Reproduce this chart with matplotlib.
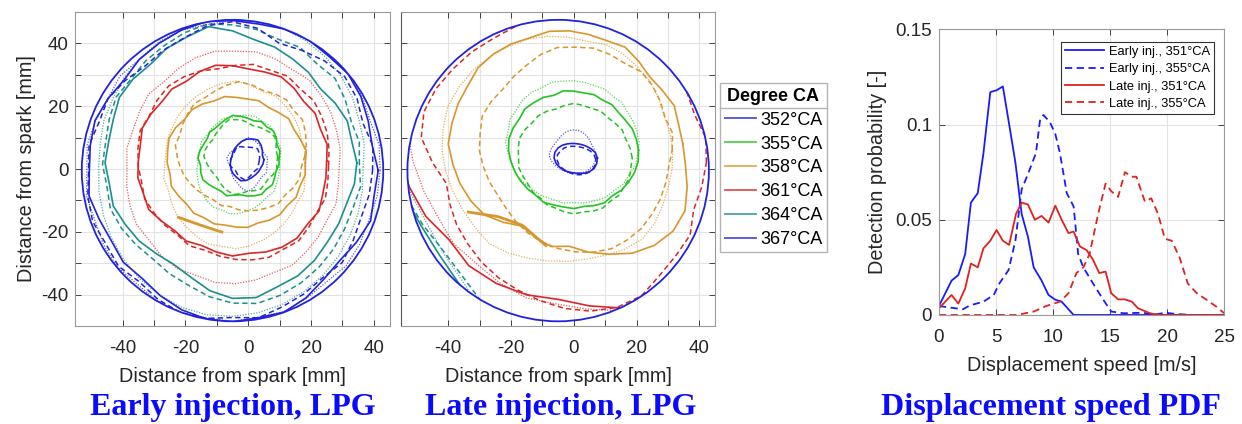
import numpy as np
import matplotlib.pyplot as plt
from matplotlib.patches import Circle
from matplotlib.lines import Line2D

# legend entries and colours
degrees = ["352°CA", "355°CA", "358°CA", "361°CA", "364°CA", "367°CA"]
deg_colors = ["#2222dd", "#22c422", "#d8962c", "#da2626", "#1b8f8f", "#2222dd"]

# chamber wall (centre, radius) [mm]
wall_c = (-5.0, -0.5)
wall_r = 48.0

# flame contours: centre [mm] and radius [mm] at equal angle steps (ccw from +x)
# three cycles per crank angle: solid, dashed, dotted

# ---- early injection ----
early_c352 = [(-0.5, 3), (-1, 2.5), (0, 2)]
early_r352 = [
    [5.5, 5.2, 5.8, 6.5, 7.2, 6.8, 6.5, 6, 5.5, 5.2, 5, 4.8, 5, 5.4, 5.8, 6.2, 6.5, 7, 6.6, 6, 5.6, 5.4, 5.2, 5.4],
    [4.5, 4.8, 5.2, 5.6, 5, 4.6, 4.4, 4.8, 5.2, 4.6, 4.2, 4.5, 4.8, 5, 4.6, 4.3, 4.8, 5.4, 6, 5.2, 4.6, 4.4, 4.7, 4.4],
    [6, 6.4, 5.8, 6.2, 6.8, 7.4, 8, 7.2, 6.4, 6, 6.6, 7, 6.4, 5.8, 6.2, 6.8, 7.2, 8.4, 9.2, 8, 6.8, 6.2, 6.6, 6.2],
]
early_c355 = [(-2.5, 3.5), (-2, 4), (-3, 2)]
early_r355 = [
    [12.3, 12.8, 12.4, 13.2, 13.6, 13.0, 13.4, 12.6, 12.9, 13.3, 13.8, 13.2, 12.7, 12.4, 12.8, 12.2, 12.5, 13.1,
     13.5, 12.9, 13.4, 13.8, 13.1, 12.5, 12.2, 12.8, 12.0, 11.7, 12.3, 12.8, 13.4, 12.9, 13.3, 12.6, 12.1, 12.5],
    [11.4, 11.0, 11.6, 12.2, 11.8, 11.2, 10.8, 10.4, 10.9, 11.6, 11.9, 12.4, 11.8, 11.2, 11.0, 10.7, 11.3, 11.9,
     12.1, 11.5, 11.0, 10.6, 10.4, 10.9, 11.5, 12.0, 12.3, 11.7, 11.2, 11.6, 12.0, 11.4, 11.0, 11.5, 11.8, 11.3],
    [13.0, 13.5, 14.2, 14.0, 14.8, 15.4, 15.1, 15.7, 15.4, 15.0, 14.6, 14.9, 14.2, 13.8, 13.4, 13.7, 13.1, 13.3,
     13.0, 13.6, 14.0, 14.6, 15.2, 15.8, 16.3, 16.0, 16.5, 16.2, 15.6, 15.2, 14.6, 14.1, 14.5, 13.8, 13.4, 13.2],
]
early_c358 = [(-3.8, 2), (-3, 4), (-4, 1)]
early_r358 = [
    [22.0, 22.6, 21.7, 21.2, 21.8, 20.9, 20.4, 21.0, 20.6, 20.8, 21.4, 20.9, 21.6, 22.0, 21.5, 22.3, 22.8, 22.2,
     22.0, 21.4, 22.0, 21.2, 20.6, 21.0, 20.3, 20.7, 20.2, 20.5, 20.9, 20.4, 21.1, 21.6, 21.2, 22.0, 21.6, 22.3],
    [21.0, 21.8, 22.6, 23.4, 22.8, 23.6, 23.0, 22.4, 23.2, 23.8, 23.0, 22.2, 21.6, 22.0, 21.2, 20.6, 20.0, 20.5,
     19.6, 19.0, 18.4, 17.6, 17.0, 16.4, 16.0, 16.6, 16.2, 17.0, 17.6, 18.2, 18.8, 19.6, 19.2, 20.0, 20.6, 20.2],
    [22.0, 22.8, 22.4, 23.4, 24.2, 24.8, 25.6, 25.2, 26.2, 27.0, 26.6, 26.0, 25.4, 24.8, 24.2, 23.6, 23.2, 22.6,
     22.6, 23.2, 22.8, 23.6, 24.4, 25.0, 25.6, 26.4, 26.0, 26.4, 25.8, 25.2, 24.6, 24.0, 23.4, 22.8, 23.2, 22.4],
]
early_c361 = [(-5, 2.5), (-4, 1), (-4, 0.5)]
early_r361 = [
    [30.0, 30.6, 29.8, 30.4, 29.6, 30.4, 31.0, 30.2, 29.8, 30.4, 31.0, 30.4, 29.4, 30.0, 29.4, 30.0, 30.6, 29.8,
     30.0, 30.6, 30.2, 30.8, 29.6, 28.8, 29.4, 28.6, 29.4, 30.2, 29.8, 30.8, 31.6, 32.0, 31.2, 31.8, 30.6, 30.2],
    [29.6, 30.2, 31.0, 31.6, 32.4, 32.0, 33.0, 32.4, 32.8, 32.0, 31.4, 32.2, 32.8, 33.2, 32.6, 31.8, 32.4, 31.6,
     31.0, 30.4, 30.8, 30.0, 29.4, 28.8, 29.4, 28.6, 29.2, 29.8, 30.4, 31.0, 30.6, 31.2, 30.4, 29.8, 30.4, 29.8],
    [33.0, 33.8, 34.2, 35.0, 35.6, 36.4, 36.0, 36.8, 37.4, 37.0, 37.6, 37.2, 36.4, 35.6, 36.2, 35.4, 34.8, 35.2,
     34.6, 35.2, 35.8, 36.4, 36.0, 36.8, 37.2, 36.6, 37.2, 37.0, 36.4, 35.6, 36.0, 35.0, 34.4, 33.6, 34.0, 33.2],
]
early_c364 = [(-5, 2), (-5, 1.5), (-5, 0.5)]
early_r364 = [
    [39.6, 38.6, 38.9, 37.8, 36.6, 37.6, 38.2, 39.2, 39.8, 42.0, 44.0, 42.6, 42.0, 40.8, 41.4, 41.6, 40.4, 40.0,
     40.6, 39.8, 40.4, 39.4, 38.8, 37.8, 37.4, 38.8, 41.4, 43.2, 43.6, 42.0, 41.6, 40.6, 39.4, 39.0, 38.6, 39.4],
    [40.4, 41.0, 40.2, 41.4, 42.6, 41.8, 43.0, 42.4, 43.6, 44.4, 45.4, 44.6, 43.6, 43.0, 42.2, 42.8, 41.8, 41.0,
     41.4, 40.6, 41.4, 40.8, 40.0, 39.4, 40.2, 41.0, 42.8, 44.2, 45.0, 44.4, 43.6, 42.8, 42.0, 41.2, 40.8, 41.4],
    [41.6, 42.6, 43.0, 44.2, 45.2, 46.0, 46.6, 47.2, 46.8, 47.4, 47.6, 47.0, 46.4, 45.6, 44.8, 44.0, 43.6, 42.8,
     42.6, 43.2, 43.8, 44.6, 45.4, 46.2, 46.8, 47.4, 47.6, 47.4, 47.0, 46.4, 45.6, 44.8, 44.0, 43.2, 42.6, 42.0],
]
early_c367 = [(-5, -0.5), (-5, -0.5), (-5, -0.5)]
early_r367 = [
    [46.4, 45.2, 46.0, 47.2, 48.0, 47.6, 48.2, 48.0, 47.4, 47.8, 48.2, 47.6, 46.8, 46.2, 45.0, 45.8, 46.6, 46.0,
     45.6, 46.4, 45.2, 44.6, 45.4, 44.8, 46.0, 47.2, 48.0, 48.2, 47.6, 48.0, 46.8, 45.2, 44.6, 45.6, 46.8, 45.8],
    [44.6, 45.4, 44.2, 45.8, 46.6, 45.6, 44.2, 43.2, 46.0, 47.4, 46.8, 45.0, 44.2, 43.4, 44.6, 45.8, 45.2, 46.4,
     45.8, 46.8, 47.4, 46.6, 47.4, 46.2, 47.4, 48.2, 47.8, 46.8, 47.6, 46.2, 45.4, 44.6, 45.6, 44.4, 43.6, 44.2],
    [47.0, 47.4, 46.6, 47.6, 48.0, 47.8, 48.2, 48.0, 48.2, 47.8, 47.2, 47.6, 46.8, 46.2, 46.8, 45.8, 46.4, 47.0,
     46.4, 47.2, 46.6, 47.4, 47.8, 47.2, 48.0, 48.2, 47.6, 48.0, 47.4, 47.8, 47.0, 46.4, 47.2, 46.8, 46.2, 46.8],
]
early_tail_x = [-22.2, -14.8, -8.4]
early_tail_y = [-15.4, -18.0, -20.1]

# ---- late injection ----
late_c352 = [(0.5, 3.5), (0.6, 3), (-0.5, 4.5)]
late_r352 = [
    [7, 6.6, 5.8, 5.2, 4.8, 4.6, 4.6, 4.8, 5.2, 5.8, 6.4, 6.8, 6.8, 6.4, 5.8, 5.4, 5, 4.8, 4.8, 5, 5.6, 6.2, 6.8, 7],
    [6.4, 6, 5.4, 4.8, 4.4, 4.2, 4.2, 4.4, 4.8, 5.2, 5.6, 6, 6, 5.6, 5.2, 4.8, 4.6, 4.6, 4.8, 5, 5.4, 5.8, 6.2, 6.4],
    [7.5, 7.2, 7, 7.4, 7.8, 8, 8, 7.6, 7, 6.6, 6.6, 7, 7.4, 7, 6.4, 6, 5.8, 5.8, 6, 6.2, 6.6, 7, 7.4, 7.6],
]
late_c355 = [(0, 6), (0, 3.5), (0, 8.5)]
late_r355 = [
    [20.6, 20.2, 19.8, 19.0, 18.6, 18.9, 18.4, 18.8, 18.5, 18.8, 19.2, 18.6, 19.4, 19.8, 20.4, 20.0, 20.6, 21.0,
     20.8, 20.4, 20.0, 19.6, 19.2, 18.8, 19.2, 18.6, 18.4, 18.6, 18.2, 18.8, 19.4, 19.0, 19.8, 20.2, 20.6, 20.8],
    [18.6, 18.2, 17.6, 17.8, 17.2, 16.8, 17.2, 16.8, 17.0, 17.4, 17.0, 16.6, 17.2, 17.6, 17.4, 18.0, 18.4, 18.0,
     17.6, 17.8, 17.2, 16.8, 17.0, 16.6, 17.2, 17.0, 17.4, 17.8, 17.4, 18.0, 18.4, 18.0, 18.6, 18.4, 18.8, 18.4],
    [20.8, 20.4, 20.0, 19.6, 19.8, 19.2, 19.6, 19.2, 19.4, 19.6, 19.8, 20.4, 20.2, 20.8, 21.2, 21.0, 21.6, 21.2,
     21.8, 21.2, 20.8, 21.0, 20.4, 20.0, 19.8, 19.4, 19.6, 19.2, 19.6, 19.8, 20.2, 20.0, 20.6, 20.4, 21.0, 20.6],
]
late_c358 = [(-1.5, 8), (0.5, 6), (-2, 6)]
late_r358 = [
    [36.2, 35.4, 35.6, 34.2, 33.4, 34.4, 35.6, 35.0, 35.4, 36.0, 36.4, 36.0, 36.8, 37.4, 37.8, 37.2, 37.6, 37.9,
     38.5, 37.6, 37.0, 36.2, 35.2, 32.6, 30.2, 31.6, 33.2, 32.6, 35.0, 37.4, 40.2, 42.2, 43.2, 42.6, 40.0, 37.6],
    [30.8, 31.4, 30.4, 31.2, 32.0, 32.6, 31.8, 32.4, 33.0, 32.8, 33.2, 32.4, 31.2, 30.6, 30.2, 31.0, 31.6, 30.8,
     30.6, 29.8, 29.2, 28.6, 28.8, 29.6, 30.4, 31.2, 31.8, 32.4, 33.0, 33.4, 33.0, 32.6, 31.8, 31.2, 30.6, 30.2],
    [33.5, 33.0, 32.6, 33.4, 34.2, 34.6, 35.4, 35.8, 35.2, 36.0, 36.8, 37.6, 38.0, 38.8, 39.4, 40.0, 40.6, 40.2,
     40.0, 39.4, 38.8, 38.4, 38.4, 38.8, 37.8, 36.6, 35.8, 35.4, 35.2, 35.6, 36.4, 37.0, 36.2, 35.0, 34.2, 33.8],
]
late_c361 = [(5, 15), (-3, 2), (4, 12)]
late_r361 = [
    [63, 63, 63, 63, 63, 63, 63, 63, 63, 63, 63, 63, 63, 63, 63, 63, 62, 62,
     62, 61.6, 61.0, 60.2, 58.4, 59.8, 59.4, 58.6, 57.4, 58.6, 60.2, 61.0, 62, 62, 62, 62, 63, 63],
    [45.2, 45.7, 44.2, 45.0, 46.8, 50, 52, 52, 52, 50, 47.6, 46.1, 45.6, 46.0, 46.4, 47.2, 47.6, 46.3,
     42.0, 38.2, 38.8, 39.6, 40.2, 41.2, 42.2, 43.2, 44.6, 46.4, 48, 49, 49, 47, 46.2, 46.2, 43.8, 44.4],
    [62, 62, 62, 62, 62, 62, 62, 62, 62, 62, 62, 62, 62, 62, 62, 61, 60, 58,
     57, 56, 55.2, 54.6, 55.4, 54.8, 55.6, 56.4, 55.8, 56.6, 58, 60, 62, 62, 62, 62, 62, 62],
]
late_c364 = [(8, 15), (8, 15), (8, 15)]
late_r364 = [
    [72, 72, 72, 72, 72, 72, 72, 72, 72, 72, 72, 72, 72, 72, 72, 72, 72, 72,
     72, 70, 66.4, 65.6, 66.2, 68.4, 72, 72, 72, 72, 72, 72, 72, 72, 72, 72, 72, 72],
    [72, 72, 72, 72, 72, 72, 72, 72, 72, 72, 72, 72, 72, 72, 72, 72, 72, 72,
     72, 72, 66, 65, 64.4, 66, 70, 72, 72, 72, 72, 72, 72, 72, 72, 72, 72, 72],
    [72, 72, 72, 72, 72, 72, 72, 72, 72, 72, 72, 72, 72, 72, 72, 72, 72, 72,
     72, 70, 64.2, 63.6, 64.8, 67, 72, 72, 72, 72, 72, 72, 72, 72, 72, 72, 72, 72],
]
late_tail_x = [-33.6, -24, -16.4, -8.9]
late_tail_y = [-13.7, -15.2, -17.9, -24.4]

# ---- displacement speed PDF ----
early351_v = [0, 1.1, 1.7, 2.3, 2.8, 3.4, 3.9, 4.5, 5.05, 5.6, 6.1, 6.7, 7.25, 7.8, 8.3, 9.0, 9.6, 10.2, 10.75, 11.8, 25]
early351_p = [0.0047, 0.018, 0.021, 0.032, 0.059, 0.064, 0.085, 0.117, 0.118, 0.120, 0.102, 0.080, 0.053, 0.041,
              0.025, 0.018, 0.0105, 0.008, 0.007, 0.0, 0.0]
early355_v = [0, 2.1, 2.7, 3.9, 4.8, 5.3, 6.1, 6.7, 7.25, 7.8, 8.5, 8.85, 9.15, 9.7, 10.2, 10.6, 11.2, 11.8, 12.2,
              12.65, 13.5, 14.4, 15.1, 16.2, 17.9, 18.8, 19.8, 20.8, 22.3, 25]
early355_p = [0.0047, 0.003, 0.005, 0.007, 0.0105, 0.0166, 0.0236, 0.039, 0.066, 0.074, 0.085, 0.102, 0.105, 0.1015,
              0.095, 0.085, 0.064, 0.057, 0.032, 0.025, 0.0166, 0.008, 0.0018, 0.0009, 0.0012, 0.0, 0.0012, 0.0005, 0.0, 0.0]
late351_v = [0, 1.1, 1.7, 2.3, 2.8, 3.4, 3.9, 4.5, 5.05, 5.6, 6.15, 6.75, 7.25, 7.8, 8.4, 9.0, 9.6, 10.2, 10.75,
             11.35, 11.8, 12.35, 12.95, 13.5, 14.05, 14.6, 15.1, 15.7, 16.3, 16.9, 17.45, 18.5, 19.4, 25]
late351_p = [0.0035, 0.0105, 0.006, 0.014, 0.027, 0.025, 0.035, 0.039, 0.0446, 0.039, 0.0368, 0.053, 0.059, 0.058,
             0.050, 0.052, 0.0485, 0.0574, 0.050, 0.043, 0.0438, 0.036, 0.034, 0.029, 0.022, 0.0228, 0.0114, 0.0082,
             0.0082, 0.007, 0.0035, 0.0009, 0.0, 0.0]
late355_v = [0, 6.8, 8.3, 9.4, 10.6, 11.35, 12.05, 12.65, 13.2, 13.95, 14.6, 15.1, 15.7, 16.3, 16.9, 17.3, 18.05,
             18.6, 19.2, 19.8, 20.4, 21.1, 21.8, 22.6, 23.45, 24.3, 25]
late355_p = [0, 0, 0.0018, 0.0047, 0.007, 0.0114, 0.022, 0.025, 0.032, 0.053, 0.069, 0.065, 0.062, 0.075, 0.0726,
             0.0726, 0.0595, 0.0613, 0.053, 0.040, 0.039, 0.030, 0.0166, 0.0114, 0.008, 0.0044, 0.0009]
pdf_labels = ["Early inj., 351°CA", "Early inj., 355°CA", "Late inj., 351°CA", "Late inj., 355°CA"]

TXT = "#262626"
FRAME = "#9a9a9a"
GRID = "#e3e3e3"
styles = [dict(ls="-", lw=1.2, alpha=1.0),
          dict(ls=(0, (3.5, 2.2)), lw=1.1, alpha=1.0),
          dict(ls=(0, (1, 1.2)), lw=0.9, alpha=0.75)]
pos_ticks = [-40, -30, -20, -10, 0, 10, 20, 30, 40]
pos_labels = ["-40", "", "-20", "", "0", "", "20", "", "40"]

plt.rcParams["font.family"] = ["Liberation Sans", "DejaVu Sans"]

fig = plt.figure(figsize=(12.42, 4.24), dpi=100)


def style_axes(ax):
    for s in ax.spines.values():
        s.set_color(FRAME)
        s.set_linewidth(0.8)
    ax.tick_params(direction="in", length=4, width=0.7, color="#444444", labelcolor=TXT,
                   labelsize=13.5, top=True, right=True)
    ax.tick_params(axis="x", pad=10)
    ax.tick_params(axis="y", pad=5)
    ax.grid(True, color=GRID, lw=0.8)
    ax.set_axisbelow(True)


def flame_panel(ax, groups, tails):
    ax.set_xlim(-55, 45)
    ax.set_ylim(-50, 50)
    ax.set_aspect("equal")
    ax.set_xticks(pos_ticks)
    ax.set_xticklabels(pos_labels)
    ax.set_yticks(pos_ticks)
    ax.set_yticklabels(pos_labels)
    style_axes(ax)
    wall = Circle(wall_c, wall_r, fill=False, ec=deg_colors[0], lw=1.3, zorder=5)
    ax.add_patch(wall)
    for centers, radii, col in groups:
        for k, ((cx, cy), r) in enumerate(zip(centers, radii)):
            a = np.linspace(0, 2 * np.pi, len(r), endpoint=False)
            a = np.append(a, a[0])
            rr = np.array(r + r[:1])
            st = styles[k]
            ln, = ax.plot(cx + rr * np.cos(a), cy + rr * np.sin(a), color=col, ls=st["ls"],
                          lw=st["lw"], alpha=st["alpha"], zorder=3)
            ln.set_clip_path(wall)
    for tx, ty in tails:
        ax.plot(tx, ty, color=deg_colors[2], lw=2.0, zorder=3)
    ax.set_xlabel("Distance from spark [mm]", fontsize=14.3, color=TXT, labelpad=7)


# early injection
ax1 = fig.add_axes([0.0604, 0.2311, 0.2536, 0.7406])
flame_panel(ax1, [(early_c352, early_r352, deg_colors[0]), (early_c355, early_r355, deg_colors[1]),
                  (early_c358, early_r358, deg_colors[2]), (early_c361, early_r361, deg_colors[3]),
                  (early_c364, early_r364, deg_colors[4]), (early_c367, early_r367, deg_colors[5])],
            [(early_tail_x, early_tail_y)])
ax1.set_ylabel("Distance from spark [mm]", fontsize=14.3, color=TXT, labelpad=4)

# late injection
ax2 = fig.add_axes([0.3226, 0.2311, 0.2536, 0.7406])
flame_panel(ax2, [(late_c352, late_r352, deg_colors[0]), (late_c355, late_r355, deg_colors[1]),
                  (late_c358, late_r358, deg_colors[2]), (late_c361, late_r361, deg_colors[3]),
                  (late_c364, late_r364, deg_colors[4])],
            [(late_tail_x, late_tail_y)])
ax2.set_yticklabels([])
ax2.spines["left"].set_color("#555555")

# legend for crank angles
handles = [Line2D([], [], color=c, lw=1.3, alpha=0.8) for c in deg_colors]
leg = fig.legend(handles, degrees, title="Degree CA", loc="upper left",
                 bbox_to_anchor=(720 / 1242, 1 - 83.3 / 424), borderaxespad=0, fontsize=13,
                 handlelength=1.75, handletextpad=0.22, labelspacing=0.38, borderpad=0.25,
                 fancybox=False, edgecolor="#b4b4b4", framealpha=1)
leg.get_title().set_fontweight("bold")
leg.get_title().set_fontsize(13)
leg.get_frame().set_linewidth(1.0)

# separator under the legend title
fig.canvas.draw()
tb = leg.get_title().get_window_extent()
eb = leg.get_texts()[0].get_window_extent()
fb = leg.get_frame().get_window_extent()
ysep = (tb.y0 + eb.y1) / 2 / fig.bbox.height
fig.add_artist(Line2D([fb.x0 / fig.bbox.width, fb.x1 / fig.bbox.width], [ysep, ysep],
                      color="#b4b4b4", lw=1.0, zorder=6))

# displacement speed PDF
ax3 = fig.add_axes([0.756, 0.2571, 0.2297, 0.6738])
ax3.plot(early351_v, early351_p, color="#1a1aff", lw=1.3, label=pdf_labels[0])
ax3.plot(early355_v, early355_p, color="#1a1aff", lw=1.3, ls=(0, (4, 2.5)), label=pdf_labels[1])
ax3.plot(late351_v, late351_p, color="#dd2222", lw=1.3, label=pdf_labels[2])
ax3.plot(late355_v, late355_p, color="#dd2222", lw=1.3, ls=(0, (4, 2.5)), label=pdf_labels[3])
ax3.set_xlim(0, 25)
ax3.set_ylim(0, 0.15)
ax3.set_xticks([0, 5, 10, 15, 20, 25])
ax3.set_yticks([0, 0.05, 0.1, 0.15])
ax3.set_yticklabels(["0", "0.05", "0.1", "0.15"])
style_axes(ax3)
ax3.set_xlabel("Displacement speed [m/s]", fontsize=14.3, color=TXT, labelpad=7)
ax3.set_ylabel("Detection probability [-]", fontsize=14.3, color=TXT, labelpad=6)
lg3 = ax3.legend(loc="upper right", fontsize=9.3, handlelength=3.0, handletextpad=0.4,
                 labelspacing=0.42, borderpad=0.3, fancybox=False, edgecolor="#333333",
                 framealpha=1, bbox_to_anchor=(0.964, 0.9566), borderaxespad=0)
lg3.get_frame().set_linewidth(0.8)

# panel captions
cap = dict(fontsize=23, fontweight="bold", color="#0a0aff", family="Liberation Serif",
           ha="center", va="center")
fig.text(233 / 1242, 1 - 408 / 424, "Early injection, LPG", **cap)
fig.text(561 / 1242, 1 - 408 / 424, "Late injection, LPG", **cap)
fig.text(1051 / 1242, 1 - 408 / 424, "Displacement speed PDF", **cap)

fig.savefig("out.png", dpi=100)
